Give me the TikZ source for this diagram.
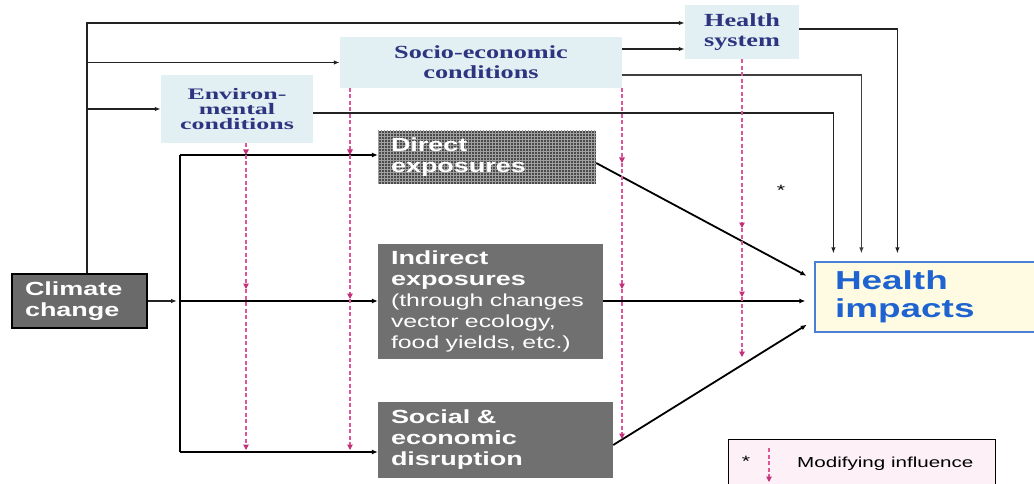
\documentclass[tikz,border=0pt]{standalone}
\usepackage{fontspec}
\setmainfont{Liberation Serif}
\newfontfamily\wsans[FakeStretch=1.42]{Liberation Sans}
\newfontfamily\wserif[FakeStretch=1.42]{Liberation Serif}
\newfontfamily\wwserif[FakeStretch=1.62]{Liberation Serif}
\usetikzlibrary{arrows.meta,patterns,calc}
\definecolor{lblue}{HTML}{E2EFF3}
\definecolor{dblue}{HTML}{2E3580}
\definecolor{gbox}{HTML}{707070}
\definecolor{ccfill}{HTML}{6A6A6A}
\definecolor{dgrid}{HTML}{4A4A4A}
\definecolor{lgrid}{HTML}{A0A0A0}
\definecolor{hiyel}{HTML}{FFFBE3}
\definecolor{hiblue}{HTML}{4A7FD8}
\definecolor{hitext}{HTML}{1F63D1}
\definecolor{pinkc}{HTML}{E0559A}
\definecolor{pinkd}{HTML}{C1307A}
\definecolor{legpink}{HTML}{FDF1F7}
\definecolor{linec}{HTML}{222222}
\begin{document}
\begin{tikzpicture}[x=1pt,y=-1pt,
  conn/.style={draw=linec, line width=1.2pt, -{Latex[length=6pt,width=4.5pt]}},
  thickconn/.style={draw=black, line width=1.8pt, -{Latex[length=6pt,width=5pt]}},
  trunkline/.style={draw=black, line width=2.6pt},
  mod/.style={draw=pinkc, line width=1.1pt, dash pattern=on 4pt off 2.5pt, -{Triangle[length=5.5pt,width=5.5pt,color=pinkd]}},
  graybox/.style={fill=gbox, text=white, font=\wsans\bfseries\fontsize{19}{21}\selectfont, align=left, inner xsep=13pt, inner ysep=0pt},
  bluebox/.style={fill=lblue, text=dblue, font=\wserif\bfseries\fontsize{18.5}{20}\selectfont, align=center, inner sep=0pt}
]
\useasboundingbox (0,0) rectangle (1034,484);

% boxes
\node[graybox, fill=ccfill, draw=black, line width=1.3pt, text width=109pt, minimum height=54pt] (cc) at (79.5,301) {Climate\\change};
\node[bluebox, font=\wwserif\bfseries\fontsize{16}{15}\selectfont, minimum width=152pt, minimum height=68pt] (env) at (237,109) {Environ-\\mental\\conditions};
\node[bluebox, minimum width=282pt, minimum height=51pt] (so) at (481,62.5) {Socio-economic\\conditions};
\node[bluebox, minimum width=114pt, minimum height=54pt] (hs) at (742,32) {Health\\system};
\node[draw=hiblue, line width=1.2pt, fill=hiyel, text=hitext, font=\wsans\bfseries\fontsize{26}{28}\selectfont, align=left, text width=190pt, inner xsep=20pt, inner ysep=0pt, minimum height=70pt] (hi) at (930,297) {Health\\impacts};
\node[graybox, fill=dgrid, postaction={pattern=grid, pattern color=lgrid}, text width=192pt, minimum height=53pt] (de) at (487,157.5) {Direct\\exposures};
\node[graybox, text width=199pt, minimum height=115pt] (ie) at (490.5,301) {Indirect\\exposures\\{\fontsize{17.5}{20}\selectfont\mdseries (through changes}\\{\fontsize{17.5}{20}\selectfont\mdseries vector ecology,}\\{\fontsize{17.5}{20}\selectfont\mdseries food yields, etc.)}};
\node[graybox, text width=209pt, minimum height=76pt] (se) at (495.5,440) {Social \&\\economic\\disruption};

% legend
\node[draw=black, line width=0.8pt, fill=legpink, minimum width=267pt, minimum height=60pt, anchor=north west, inner sep=0pt] (lg) at (728,439) {};
\node[font=\wsans\fontsize{14.5}{16}\selectfont, anchor=base west, inner sep=0pt] (lgt) at (797,467) {Modifying influence};
\node[font=\wsans\fontsize{15}{16}\selectfont, inner sep=0pt] (lgs) at (746,461) {*};
\coordinate (la1) at (769,448);
\coordinate (la2) at (769,482);
\draw[mod] (la1) -- (la2);

\node[font=\wsans\fontsize{15}{16}\selectfont, inner sep=0pt] (st) at (781,190) {*};

% trunk from climate change to modifiers
\coordinate (t2) at (87,62.5);
\coordinate (t3) at (87,109);
\draw[conn] ([xshift=7.5pt]cc.north) |- ([yshift=9pt]hs.west);
\draw[conn] (t2) -- (so.west);
\draw[conn] (t3) -- (env.west);
\draw[conn] ([yshift=13.5pt]so.east) -- ([yshift=-17pt]hs.west);

% modifiers to health impacts
\draw[conn, shorten >=8pt] ([yshift=3pt]hs.east) -| ([xshift=83pt]hi.north west);
\draw[conn, draw=black!75, shorten >=8pt] ([yshift=-12.5pt]so.east) -| ([xshift=47pt]hi.north west);
\draw[conn, shorten >=8pt] ([yshift=-4pt]env.east) -| ([xshift=19pt]hi.north west);

% branch from climate change to exposures
\coordinate (bt) at (180,155);
\coordinate (br) at (180,301);
\coordinate (bb) at (180,452);
\draw[conn, shorten >=3pt] (cc.east) -- (br);
\draw[trunkline] (bt) -- (bb);
\draw[thickconn] (bt) -- (bt -| de.west);
\draw[thickconn] (br) -- (br -| ie.west);
\draw[thickconn] (bb) -- (bb -| se.west);

% exposures to health impacts
\draw[thickconn, shorten >=9pt] ([yshift=-5.5pt]de.east) -- ([yshift=17pt]hi.west);
\draw[thickconn, shorten >=9pt] (ie.east) -- (ie.east -| hi.west);
\draw[thickconn, shorten >=9pt] ([yshift=-5pt]se.east) -- ([yshift=-23pt]hi.west);

% modifying influences (dashed)
\coordinate (a1) at (246,155); \coordinate (a2) at (246,289); \coordinate (a3) at (246,450);
\draw[mod] ([xshift=9pt]env.south) -- (a1);
\draw[mod] (a1) -- (a2);
\draw[mod] (a2) -- (a3);
\coordinate (b0) at (350,88); \coordinate (b1) at (350,155); \coordinate (b2) at (350,299); \coordinate (b3) at (350,450);
\draw[mod] (b0) -- (b1);
\draw[mod] (b1) -- (b2);
\draw[mod] (b2) -- (b3);
\coordinate (c0) at (622,88); \coordinate (c1) at (622,163); \coordinate (c2) at (622,289); \coordinate (c3) at (622,439);
\draw[mod] (c0) -- (c1);
\draw[mod] (c1) -- (c2);
\draw[mod] (c2) -- (c3);
\coordinate (d1) at (742,228); \coordinate (d2) at (742,297); \coordinate (d3) at (742,357);
\draw[mod] (hs.south) -- (d1);
\draw[mod] (d1) -- (d2);
\draw[mod] (d2) -- (d3);
\end{tikzpicture}
\end{document}
